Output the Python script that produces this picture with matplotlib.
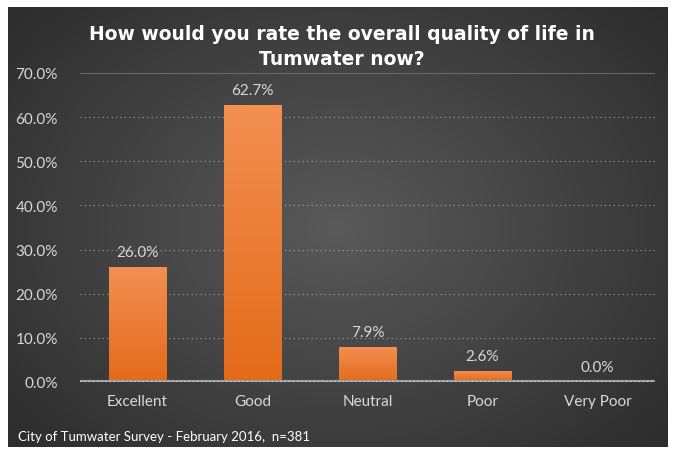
import matplotlib.pyplot as plt
import numpy as np

categories = ["Excellent", "Good", "Neutral", "Poor", "Very Poor"]
values = [26.0, 62.7, 7.9, 2.6, 0.0]
yticks = [0, 10, 20, 30, 40, 50, 60, 70]

title = "How would you rate the overall quality of life in\nTumwater now?"
footnote = "City of Tumwater Survey - February 2016,  n=381"

plt.rcParams['font.family'] = ['Lato', 'DejaVu Sans']

fig = plt.figure(figsize=(6.79, 4.56), dpi=100)
fig.patch.set_facecolor('white')

# dark panel with radial gradient
bg = fig.add_axes([8/679, 8/456, 660/679, 440/456], zorder=0)
yy, xx = np.mgrid[-1:1:300j, -1:1:450j]
r = np.sqrt(xx**2 + (yy * 0.9)**2)
shade = 0.35 - 0.17 * np.clip(r / 1.3, 0, 1)
img = np.dstack([shade, shade, shade])
bg.imshow(img, aspect='auto', extent=[0, 1, 0, 1])
bg.set_axis_off()

ax = fig.add_axes([80/679, 1 - 383/456, 575/679, 309/456], zorder=1)
ax.patch.set_alpha(0)
x = np.arange(len(categories))
bars = ax.bar(x, values, width=0.5, color='#ED7D31', zorder=3)

# vertical gradient on bars
grad = np.linspace(0, 1, 100).reshape(-1, 1)
top = np.array([0.95, 0.56, 0.32])
bot = np.array([0.89, 0.42, 0.10])
gimg = bot + (top - bot) * grad[..., None]
for b in bars:
    if b.get_height() <= 0:
        continue
    bx, by = b.get_x(), b.get_y()
    im = ax.imshow(gimg, aspect='auto', origin='lower', zorder=4,
                   extent=[bx, bx + b.get_width(), by, by + b.get_height()])
    im.set_clip_path(b)

for xi, v in zip(x, values):
    ax.text(xi, v + 3.4, f"{v:.1f}%", ha='center', va='center',
            color='#d9d9d9', fontsize=11, zorder=5)

ax.set_xlim(-0.5, len(categories) - 0.5)
ax.set_ylim(0, 70)
ax.set_yticks(yticks)
ax.set_yticklabels([f"{t:.1f}%" for t in yticks])
ax.set_xticks(x)
ax.set_xticklabels(categories)
ax.tick_params(colors='#d9d9d9', labelsize=11, length=0)
ax.tick_params(axis='x', pad=9)
ax.tick_params(axis='y', pad=16)
for s in ax.spines.values():
    s.set_visible(False)

for t in yticks[1:-1]:
    ax.axhline(t, color='#bfbfbf', lw=0.8, ls=(0, (1, 3)), alpha=0.8, zorder=1)
ax.axhline(70, color='#6a6a6a', lw=0.8, zorder=1)
ax.axhline(0, color='#9a9a9a', lw=3, zorder=6)
ax.axhline(0, color='#e0e0e0', lw=1.2, ls=(0, (1, 1.5)), zorder=7)

fig.text(342/679, 1 - 47/456, title, ha='center', va='center', color='white',
         fontsize=13.5, fontweight='bold', linespacing=1.45,
         family=['DejaVu Sans'])
fig.text(18/679, 1 - 437/456, footnote, ha='left', va='center',
         color='white', fontsize=9.5)

fig.savefig('out.png', dpi=100)
